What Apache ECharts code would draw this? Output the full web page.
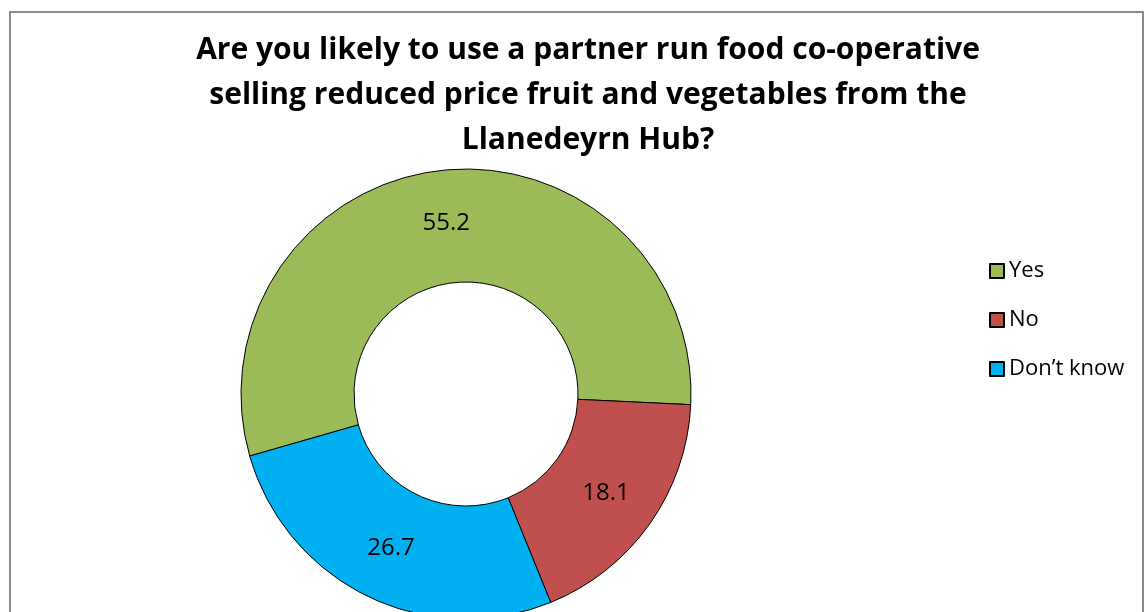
<!DOCTYPE html>
<html>
<head>
<meta charset="utf-8">
<script src="https://cdn.jsdelivr.net/npm/echarts@6/dist/echarts.min.js"></script>
<style>
html, body { margin: 0; padding: 0; background: #fff; }
#main { width: 1146px; height: 612px; }
</style>
</head>
<body>
<div id="main"></div>
<script>
var categories = ['Yes', 'No', 'Don\u2019t know'];
var values = [55.2, 18.1, 26.7];
var colors = ['#9BBB59', '#C0504D', '#00B0F0'];

var pieData = [];
for (var i = 0; i < categories.length; i++) {
    pieData.push({
        name: categories[i],
        value: values[i],
        itemStyle: { color: colors[i] }
    });
}

var myChart = echarts.init(document.getElementById('main'));
var option = {
    animation: false,
    title: {
        text: 'Are you likely to use a partner run food co-operative\nselling reduced price fruit and vegetables from the\nLlanedeyrn Hub?',
        left: 583,
        top: 23,
        textAlign: 'center',
        textStyle: {
            fontFamily: 'Open Sans',
            fontWeight: 'bold',
            fontSize: 30,
            lineHeight: 45,
            color: '#000'
        }
    },
    legend: {
        orient: 'vertical',
        left: 984,
        top: 255,
        itemWidth: 14,
        itemHeight: 14,
        itemGap: 27,
        icon: 'rect',
        textStyle: { fontFamily: 'Open Sans', fontSize: 22, color: '#000' },
        data: categories
    },
    graphic: [{
        type: 'rect',
        shape: { x: 10, y: 12, width: 1133, height: 620 },
        style: { fill: 'none', stroke: '#8a8a8a', lineWidth: 2 },
        silent: true
    }],
    series: [{
        type: 'pie',
        center: [466, 394],
        radius: [112, 225],
        startAngle: 196,
        clockwise: true,
        itemStyle: { borderColor: '#000', borderWidth: 1 },
        label: {
            show: true,
            position: 'inside',
            formatter: '{c}',
            fontFamily: 'Open Sans',
            fontSize: 24,
            color: '#000'
        },
        labelLine: { show: false },
        emphasis: { disabled: true },
        data: pieData
    }]
};
myChart.setOption(option);
</script>
</body>
</html>
